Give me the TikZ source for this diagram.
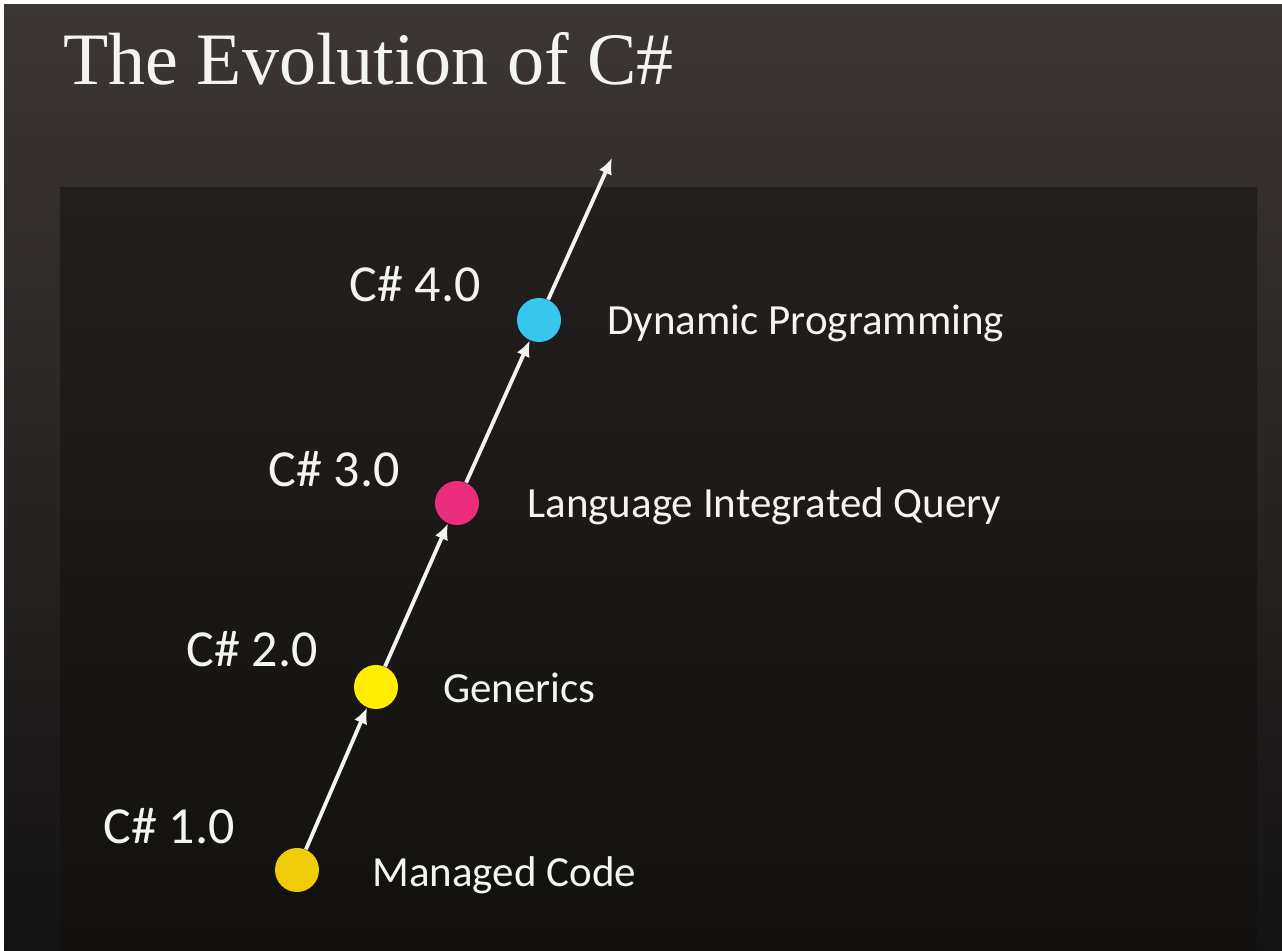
\documentclass[tikz,border=0pt]{standalone}
\usepackage{fontspec}
\setmainfont{Liberation Serif}
\newfontfamily\slidefont{Carlito}
\usepackage{xcolor}
\usepackage{tikz}
\usetikzlibrary{arrows.meta,positioning}

\definecolor{frametop}{HTML}{3C3634}
\definecolor{framebot}{HTML}{141313}
\definecolor{paneltop}{HTML}{231F1E}
\definecolor{panelbot}{HTML}{121110}
\definecolor{goldball}{HTML}{F0CC08}
\definecolor{yellowball}{HTML}{FFEE00}
\definecolor{pinkball}{HTML}{EA2E7B}
\definecolor{cyanball}{HTML}{36C6EE}
\definecolor{slidetext}{HTML}{F4F4F0}

\begin{document}
\begin{tikzpicture}[
    x=0.5pt, y=-0.5pt,
    arr/.style={-{Latex[length=8pt,width=7pt]}, line width=1.9pt, draw=slidetext},
    dot/.style={circle, minimum size=22pt, inner sep=0pt},
    ver/.style={anchor=base west, inner sep=0pt, text=slidetext, font=\slidefont\fontsize{26}{28}\selectfont},
    feat/.style={anchor=base west, inner sep=0pt, text=slidetext, font=\slidefont\fontsize{21.5}{24}\selectfont}
  ]
    % Slide background
    \useasboundingbox[fill=white] (0,0) rectangle (1282,951);
    \shade[top color=frametop, bottom color=framebot] (4,5) rectangle (1282,951);
    \shade[top color=paneltop, bottom color=panelbot] (60,188) rectangle (1257,951);

    % Title
    \node[anchor=base west, inner sep=0pt, text=slidetext, font=\fontsize{37}{40}\selectfont]
      (title) at (63,85) {The Evolution of C\#};

    % Milestones
    \node[dot, fill=goldball]   (v1) at (297,870) {};
    \node[dot, fill=yellowball] (v2) at (376,687) {};
    \node[dot, fill=pinkball]   (v3) at (457,503) {};
    \node[dot, fill=cyanball]   (v4) at (539,320) {};
    \coordinate (next) at (612,158);

    % Version labels
    \node[ver] (l1) at (103,844) {C\# 1.0};
    \node[ver] (l2) at (186,667) {C\# 2.0};
    \node[ver] (l3) at (268,487) {C\# 3.0};
    \node[ver] (l4) at (349,302) {C\# 4.0};

    % Feature labels
    \node[feat] (f1) at (372,887) {Managed Code};
    \node[feat] (f2) at (443,703) {Generics};
    \node[feat] (f3) at (527,518) {Language Integrated Query};
    \node[feat] (f4) at (607,335) {Dynamic Programming};

    % Timeline arrows
    \draw[arr] (v1) -- (v2);
    \draw[arr] (v2) -- (v3);
    \draw[arr] (v3) -- (v4);
    \draw[arr] (v4) -- (next);

  \end{tikzpicture}
\end{document}
